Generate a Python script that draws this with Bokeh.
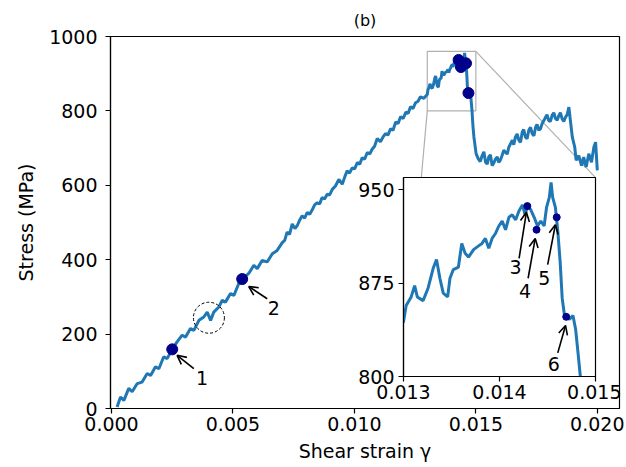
from bokeh.plotting import figure
from bokeh.models import (Range1d, FixedTicker, NumeralTickFormatter, Arrow,
                          OpenHead, ColumnDataSource)
from bokeh.core.properties import value
from bokeh.embed import file_html
from bokeh.resources import INLINE

# ---------------- data ----------------
strain = [0.00023, 0.00037, 0.00051, 0.00071, 0.00085, 0.00106, 0.00126, 0.00147, 0.00161,
          0.00181, 0.00195, 0.00215, 0.00229, 0.00250, 0.00270, 0.00291, 0.00305, 0.00325,
          0.00339, 0.00360, 0.00380, 0.00394, 0.00408, 0.00421, 0.00442, 0.00456, 0.00469,
          0.00490, 0.00504, 0.00524, 0.00538, 0.00565, 0.00586, 0.00600, 0.00620, 0.00641,
          0.00662, 0.00682,
          0.00703, 0.00713, 0.00723, 0.00733, 0.00744, 0.00755, 0.00765, 0.00775, 0.00785,
          0.00795, 0.00806, 0.00816, 0.00827, 0.00837, 0.00847, 0.00857, 0.00867, 0.00877,
          0.00888, 0.00898, 0.00909, 0.00922, 0.00936, 0.00950, 0.00960, 0.00970, 0.00980,
          0.00991, 0.01001, 0.01012, 0.01022, 0.01032, 0.01042, 0.01053, 0.01063, 0.01073,
          0.01083, 0.01094, 0.01107, 0.01118, 0.01128, 0.01138, 0.01149, 0.01159, 0.01170,
          0.01180, 0.01190, 0.01201, 0.01212, 0.01221, 0.01231, 0.01241, 0.01252, 0.01262,
          0.01272, 0.01286,
          0.013000, 0.013028, 0.013080, 0.013116, 0.013144, 0.013204, 0.013256, 0.013309,
          0.013344, 0.013379, 0.013414, 0.013460, 0.013484, 0.013519, 0.013572, 0.013607,
          0.013642, 0.013677, 0.013730, 0.013782, 0.013818, 0.013853, 0.013888, 0.013923,
          0.013958, 0.013993, 0.014028, 0.014063, 0.014098, 0.014133, 0.014168, 0.014203,
          0.014239, 0.014267, 0.014291, 0.014326, 0.014361, 0.014396, 0.014430, 0.014465,
          0.014490, 0.014519, 0.014537, 0.014554, 0.014582, 0.014607, 0.014632, 0.014653,
          0.014677, 0.014730, 0.014765, 0.014793, 0.014818, 0.014842,
          0.01488, 0.01492, 0.01501, 0.01510, 0.01518, 0.01526, 0.01533, 0.01540, 0.01547,
          0.01553, 0.01560, 0.01567, 0.01574, 0.01581, 0.01588, 0.01594, 0.01601, 0.01608,
          0.01615, 0.01622, 0.01629, 0.01636, 0.01643, 0.01650, 0.01656, 0.01663, 0.01670,
          0.01677, 0.01684, 0.01691, 0.01697, 0.01704, 0.01711, 0.01718, 0.01725, 0.01732,
          0.01739, 0.01746, 0.01752, 0.01759, 0.01766, 0.01773, 0.01780, 0.01787, 0.01793,
          0.01800, 0.01807, 0.01814, 0.01821, 0.01828, 0.01835, 0.01842, 0.01848, 0.01855,
          0.01862, 0.01869, 0.01876, 0.01883, 0.01890, 0.01897, 0.01907, 0.01913, 0.01924,
          0.01935, 0.01944, 0.01954, 0.01965, 0.01976, 0.01986, 0.01993, 0.02000]
stress = [4, 31, 22, 54, 45, 67, 71, 94, 89,
          112, 107, 139, 134, 159, 179, 197, 192, 215,
          210, 237, 246, 259, 237, 259, 273, 291, 286,
          309, 304, 336, 348, 363, 385, 376, 398, 394,
          416, 425,
          446, 452, 474, 468, 496, 484, 492, 507, 518,
          512, 527, 522, 535, 548, 553, 550, 567, 563,
          576, 574, 589, 598, 616, 603, 622, 639, 633,
          647, 644, 661, 657, 674, 670, 688, 684, 697,
          705, 726, 717, 730, 739, 735, 752, 748, 770,
          766, 784, 780, 797, 793, 811, 806, 822, 826,
          838, 834,
          844, 857, 864, 873, 864, 861, 871, 887,
          894, 879, 867, 864, 879, 886, 888, 907,
          899, 896, 902, 905, 907, 911, 903, 911,
          915, 921, 925, 918, 928, 930, 926, 933,
          938, 930, 937, 934, 928, 921, 925, 921,
          936, 944, 956, 944, 936, 917, 892, 863,
          849, 846, 849, 838, 819, 800,
          760, 730, 685, 671, 664, 680, 690, 662, 657,
          676, 682, 653, 660, 671, 676, 662, 668, 680,
          694, 689, 684, 703, 712, 721, 709, 730, 738,
          721, 716, 743, 750, 730, 725, 748, 756, 739,
          733, 756, 764, 748, 752, 766, 774, 783, 790,
          774, 772, 788, 795, 779, 775, 788, 795, 779,
          772, 783, 790, 810, 770, 730, 703, 667, 680,
          653, 676, 649, 685, 662, 703, 716, 640]

point_labels = ["1", "2", "3", "4", "5", "6"]
point_strain = [0.00250, 0.00538, 0.01429, 0.014386, 0.014596, 0.014695]
point_stress = [159, 348, 937, 918, 928, 848]

x_ticks = [0.0, 0.005, 0.010, 0.015, 0.020]
y_ticks = [0, 200, 400, 600, 800, 1000]
inset_x_ticks = [0.013, 0.014, 0.015]
inset_y_ticks = [800, 875, 950]
zoom_x = (0.013, 0.015)
zoom_y = (800, 960)

# annotations (data coordinates)
main_lab_x = [0.00373, 0.00668]
main_lab_y = [81, 269]
main_arr_x0 = [0.00339, 0.00641]
main_arr_y0 = [107, 295]
main_arr_x1 = [0.00270, 0.00565]
main_arr_y1 = [143, 328]
circle_x, circle_y = 0.00401, 244

ins_lab_x = [0.014168, 0.014267, 0.014467, 0.014565]
ins_lab_y = [888, 869, 879, 810]
ins_arr_x0 = [0.014204, 0.014298, 0.014502, 0.014607]
ins_arr_y0 = [895, 879, 890, 819]
ins_arr_x1 = [0.014280, 0.014372, 0.014582, 0.014688]
ins_arr_y1 = [932, 911, 922, 841]

# inset placement in main-axes data coordinates
inset_box_x = (0.012021, 0.019926)
inset_box_y = (86.8, 620.5)

# ---------------- style ----------------
FONT = "DejaVu Sans"
FS = "19px"
BLUE = "#1f77b4"
DOT = "#00008b"

W, H = 624, 465
BL, BT, BR = 110, 36, 5
FRAME_W = W - BL - BR
FRAME_H = 372
XR = Range1d(-0.0000412, -0.0000412 + FRAME_W / 24290.0)
YR = Range1d(0, 1000)

p = figure(width=W, height=H, x_range=XR, y_range=YR, output_backend="svg",
           toolbar_location=None, min_border_left=BL, min_border_right=BR,
           min_border_top=BT, min_border_bottom=H - BT - FRAME_H)
p.title.text = "(b)"
p.title.align = "center"
p.title.text_font = FONT
p.title.text_font_size = "16px"
p.title.text_font_style = "normal"
p.title.text_color = "black"
p.title.standoff = 14
p.grid.visible = False
p.outline_line_color = "black"
p.outline_line_width = 1.2
p.background_fill_color = "white"
p.border_fill_color = "white"


def style_axes(fig, xt, yt, xfmt, ystandoff, xstandoff, xlabel=None, ylabel=None):
    for ax in (fig.xaxis[0], fig.yaxis[0]):
        ax.axis_line_color = "black"
        ax.axis_line_width = 1.2
        ax.major_tick_line_color = "black"
        ax.major_tick_line_width = 1.2
        ax.major_tick_in = 0
        ax.major_tick_out = 5
        ax.minor_tick_line_color = None
        ax.major_label_text_font = FONT
        ax.major_label_text_font_size = FS
        ax.major_label_text_color = "black"
        ax.axis_label_text_font = FONT
        ax.axis_label_text_font_size = FS
        ax.axis_label_text_font_style = "normal"
        ax.axis_label_text_color = "black"
    fig.xaxis[0].ticker = FixedTicker(ticks=xt)
    fig.yaxis[0].ticker = FixedTicker(ticks=yt)
    fig.xaxis[0].formatter = NumeralTickFormatter(format=xfmt)
    fig.xaxis[0].major_label_standoff = xstandoff
    fig.yaxis[0].major_label_standoff = ystandoff
    if xlabel:
        fig.xaxis[0].axis_label = xlabel
        fig.xaxis[0].axis_label_standoff = 6
    if ylabel:
        fig.yaxis[0].axis_label = ylabel
        fig.yaxis[0].axis_label_standoff = 9


style_axes(p, x_ticks, y_ticks, "0.000", 8, 3, "Shear strain γ", "Stress (MPa)")

# zoom rectangle and connectors (drawn below the inset)
p.quad(left=[zoom_x[0]], right=[zoom_x[1]], bottom=[zoom_y[0]], top=[zoom_y[1]],
       fill_color=None, line_color="#b0b0b0", line_width=1.2)
p.segment(x0=[zoom_x[1], zoom_x[0]], y0=[zoom_y[1], zoom_y[0]],
          x1=[inset_box_x[1], inset_box_x[0]], y1=[inset_box_y[1], inset_box_y[0]],
          line_color="#b0b0b0", line_width=1.2)

src = ColumnDataSource(dict(x=strain, y=stress))
p.line("x", "y", source=src, line_color=BLUE, line_width=3)
p.scatter(point_strain, point_stress, size=11, fill_color=DOT, line_color=DOT)
p.scatter([circle_x], [circle_y], marker="circle", size=31, fill_color=None,
          line_color="black", line_dash="3 2", line_width=1)
p.add_layout(Arrow(end=OpenHead(size=9, line_width=1.6, line_color="black"),
                   source=ColumnDataSource(dict(x0=main_arr_x0, y0=main_arr_y0,
                                                x1=main_arr_x1, y1=main_arr_y1)),
                   x_start="x0", y_start="y0", x_end="x1", y_end="y1",
                   line_width=1.6, line_color="black"))
p.text(main_lab_x, main_lab_y, text=point_labels[:2], text_font=value(FONT),
       text_font_size=FS, text_align="center", text_baseline="middle", text_color="black")

# ---------------- inset ----------------
scale_x = FRAME_W / (XR.end - XR.start)
scale_y = FRAME_H / (YR.end - YR.start)
ins_left = BL + (inset_box_x[0] - XR.start) * scale_x
ins_right = BL + (inset_box_x[1] - XR.start) * scale_x
ins_top = BT + (YR.end - inset_box_y[1]) * scale_y
ins_bottom = BT + (YR.end - inset_box_y[0]) * scale_y
IBL, IBR, IBT, IBB = 50, 26, 8, 32
iw = int(round(IBL + (ins_right - ins_left) + IBR))
ih = int(round(IBT + (ins_bottom - ins_top) + IBB))

q = figure(width=iw, height=ih, x_range=Range1d(*zoom_x), y_range=Range1d(*zoom_y),
           output_backend="svg", toolbar_location=None, min_border_left=IBL,
           min_border_right=IBR, min_border_top=IBT, min_border_bottom=IBB)
q.grid.visible = False
q.background_fill_color = "white"
q.border_fill_color = None
q.outline_line_color = "black"
q.outline_line_width = 1.2
style_axes(q, inset_x_ticks, inset_y_ticks, "0.000", 4, 3)
q.line("x", "y", source=src, line_color=BLUE, line_width=3)
q.scatter(point_strain[2:], point_stress[2:], size=7, fill_color=DOT, line_color=DOT)
q.add_layout(Arrow(end=OpenHead(size=9, line_width=1.6, line_color="black"),
                   source=ColumnDataSource(dict(x0=ins_arr_x0, y0=ins_arr_y0,
                                                x1=ins_arr_x1, y1=ins_arr_y1)),
                   x_start="x0", y_start="y0", x_end="x1", y_end="y1",
                   line_width=1.6, line_color="black"))
q.text(ins_lab_x, ins_lab_y, text=point_labels[2:], text_font=value(FONT),
       text_font_size=FS, text_align="center", text_baseline="middle", text_color="black")
q.styles = {"position": "absolute",
            "left": f"{ins_left - IBL:.1f}px",
            "top": f"{ins_top - IBT:.1f}px",
            "z-index": "5"}

open("out.html", "w").write(file_html([p, q], INLINE))
